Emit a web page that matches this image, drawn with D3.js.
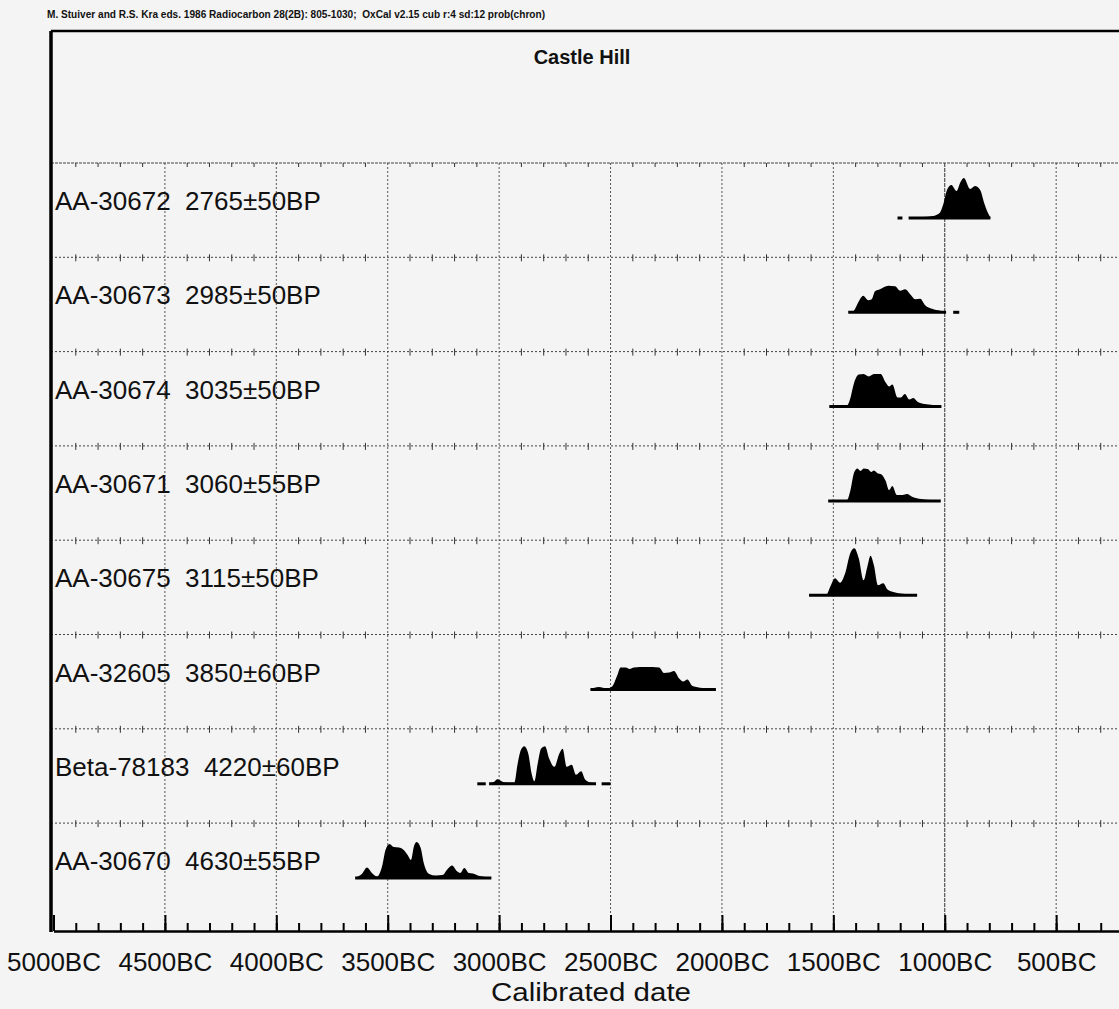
<!DOCTYPE html>
<html>
<head>
<meta charset="utf-8">
<script src="https://cdn.jsdelivr.net/npm/d3@7"></script>
<style>
  html, body { margin: 0; padding: 0; background: #f4f4f4; }
  svg { display: block; }
  text { font-family: "Liberation Sans", Arial, sans-serif; fill: #111; }
</style>
</head>
<body>
<svg id="chart" width="1119" height="1009"></svg>
<script>
// ---------- DATA ----------
const headerText = "M. Stuiver and R.S. Kra eds. 1986 Radiocarbon 28(2B): 805-1030;  OxCal v2.15 cub r:4 sd:12 prob(chron)";
const chartTitle = "Castle Hill";
const axisTitle = "Calibrated date";

const labIDs  = ["AA-30672", "AA-30673", "AA-30674", "AA-30671", "AA-30675", "AA-32605", "Beta-78183", "AA-30670"];
const bpAges  = ["2765±50BP", "2985±50BP", "3035±50BP", "3060±55BP", "3115±50BP", "3850±60BP", "4220±60BP", "4630±55BP"];

// calibrated probability distributions: [year BC, relative probability]
const dist_AA30672 = [[1162,.01],[1099,.02],[1053,.04],[1023,.10],[1005,.30],[990,.56],[970,.66],[947,.54],[929,.72],[914,.80],[886,.58],[864,.64],[841,.56],[823,.30],[808,.12],[795,.01]];
const dist_AA30673 = [[1433,.01],[1411,.02],[1388,.20],[1366,.33],[1343,.24],[1328,.26],[1313,.42],[1291,.46],[1253,.53],[1223,.52],[1200,.43],[1178,.46],[1155,.36],[1133,.26],[1110,.27],[1088,.14],[1057,.07],[1020,.03],[994,.01]];
const dist_AA30674 = [[1518,.01],[1439,.02],[1424,.16],[1409,.44],[1386,.64],[1364,.65],[1341,.60],[1318,.65],[1288,.65],[1265,.48],[1250,.40],[1235,.44],[1212,.18],[1197,.18],[1179,.25],[1159,.14],[1141,.17],[1121,.09],[1091,.05],[1053,.03],[1015,.01]];
const dist_AA30671 = [[1523,.01],[1439,.02],[1424,.20],[1406,.58],[1392,.65],[1378,.60],[1364,.65],[1346,.64],[1330,.58],[1318,.61],[1300,.55],[1288,.54],[1265,.40],[1250,.22],[1235,.30],[1215,.12],[1189,.12],[1170,.14],[1144,.08],[1106,.04],[1060,.02],[1018,.01]];
const dist_AA30675 = [[1609,.01],[1530,.02],[1515,.16],[1492,.34],[1470,.25],[1447,.44],[1424,.84],[1406,.94],[1386,.74],[1364,.30],[1348,.56],[1333,.79],[1318,.60],[1300,.20],[1276,.24],[1258,.12],[1227,.06],[1189,.03],[1124,.01]];
const dist_AA32605 = [[2590,.01],[2553,.05],[2515,.02],[2493,.06],[2470,.28],[2455,.44],[2432,.44],[2414,.41],[2395,.44],[2342,.45],[2282,.44],[2260,.33],[2237,.34],[2215,.37],[2192,.22],[2174,.16],[2155,.20],[2132,.07],[2087,.03],[2027,.01]];
const dist_Beta78183 = [[3045,.01],[3022,.04],[3008,.09],[2985,.04],[2962,.02],[2932,.02],[2917,.40],[2902,.68],[2887,.75],[2869,.60],[2854,.20],[2842,.05],[2827,.40],[2812,.70],[2794,.75],[2775,.50],[2752,.34],[2730,.60],[2715,.70],[2697,.34],[2674,.38],[2655,.18],[2632,.25],[2613,.08],[2587,.02],[2565,.01]];
const dist_AA30670 = [[3646,.01],[3616,.08],[3593,.21],[3571,.10],[3548,.03],[3525,.24],[3510,.56],[3492,.68],[3473,.62],[3450,.61],[3428,.56],[3408,.44],[3396,.36],[3382,.64],[3370,.72],[3352,.60],[3337,.28],[3314,.08],[3284,.05],[3254,.06],[3231,.18],[3211,.25],[3190,.14],[3175,.10],[3156,.20],[3136,.10],[3118,.09],[3088,.04],[3035,.01]];

const distributions = [dist_AA30672, dist_AA30673, dist_AA30674, dist_AA30671, dist_AA30675, dist_AA32605, dist_Beta78183, dist_AA30670];

// small range dashes drawn on the baseline: [from BC, to BC]
const dashRanges = [[[1212,1190]], [[962,935]], [], [], [], [], [[3098,3060],[2540,2500]], []];

const majorTicks = [5000, 4500, 4000, 3500, 3000, 2500, 2000, 1500, 1000, 500];
const tickLabels = ["5000BC", "4500BC", "4000BC", "3500BC", "3000BC", "2500BC", "2000BC", "1500BC", "1000BC", "500BC"];
const minorTicks = d3.range(4900, 199, -100);

// ---------- LAYOUT ----------
const svg = d3.select("#chart");
const W = 1119, H = 1009;
const frameLeft = 51, frameTop = 31, rowsTop = 163, axisY = 931;

const x = d3.scaleLinear().domain([5000, 200]).range([53.5, 1123]);
const rowScale = d3.scaleBand().domain(labIDs).range([rowsTop, rowsTop + 8 * 94.3]);
const yProb = d3.scaleLinear().domain([0, 1]).range([0, 50]);
const baselineOffset = 55, labelOffset = 47;

svg.append("rect").attr("width", W).attr("height", H).attr("fill", "#f4f4f4");

// header
svg.append("text").attr("x", 47).attr("y", 18)
  .attr("font-size", 11).attr("font-weight", "bold")
  .attr("textLength", 498).attr("lengthAdjust", "spacingAndGlyphs")
  .style("white-space", "pre")
  .text(headerText);

// title
svg.append("text").attr("x", 582).attr("y", 64)
  .attr("text-anchor", "middle").attr("font-size", 20).attr("font-weight", "bold")
  .text(chartTitle);

// vertical grid lines
svg.append("g").selectAll("line").data(majorTicks.slice(1)).join("line")
  .attr("x1", d => x(d)).attr("x2", d => x(d))
  .attr("y1", rowsTop).attr("y2", axisY)
  .attr("stroke", d => d === 1000 ? "#333" : "#555").attr("stroke-width", 1)
  .attr("stroke-dasharray", d => d === 1000 ? "4,1" : "2,2");

// row separators with small ticks
labIDs.forEach((id, i) => {
  const y0 = rowScale(id);
  const g = svg.append("g");
  g.append("line").attr("x1", frameLeft).attr("x2", x(200)).attr("y1", y0).attr("y2", y0)
    .attr("stroke", "#444").attr("stroke-width", 1)
    .attr("stroke-dasharray", i === 0 ? "3,1" : "2,2");
  g.selectAll("line.t").data(minorTicks.filter(d => d % 500 !== 0)).join("line").attr("class", "t")
    .attr("x1", d => x(d)).attr("x2", d => x(d))
    .attr("y1", i === 0 ? y0 : y0 - 3).attr("y2", y0 + 4)
    .attr("stroke", "#333").attr("stroke-width", 1);
});

// row labels
labIDs.forEach((id, i) => {
  svg.append("text").attr("x", 55).attr("y", rowScale(id) + labelOffset)
    .attr("font-size", 26).style("white-space", "pre")
    .text(id + "  " + bpAges[i]);
});

// distributions
const area = d3.area()
  .x(d => x(d[0]))
  .y0(0)
  .y1(d => -yProb(d[1]))
  .curve(d3.curveMonotoneX);

distributions.forEach((dist, i) => {
  const yb = rowScale(labIDs[i]) + baselineOffset;
  const g = svg.append("g").attr("transform", `translate(0,${yb})`);
  const sorted = dist.slice().sort((a, b) => b[0] - a[0]);
  g.append("path").datum(sorted).attr("d", area).attr("fill", "#000");
  const ext = d3.extent(sorted, d => d[0]);
  g.append("line").attr("x1", x(ext[1])).attr("x2", x(ext[0])).attr("y1", 0).attr("y2", 0)
    .attr("stroke", "#000").attr("stroke-width", 3);
  g.selectAll("line.dash").data(dashRanges[i]).join("line").attr("class", "dash")
    .attr("x1", d => x(d[0])).attr("x2", d => x(d[1])).attr("y1", 0).attr("y2", 0)
    .attr("stroke", "#000").attr("stroke-width", 3);
});

// bottom axis: minor ticks
const minorAxis = d3.axisBottom(x).tickValues(minorTicks).tickSize(-8).tickSizeOuter(0).tickFormat("");
const gMinor = svg.append("g").attr("transform", `translate(0,${axisY})`).call(minorAxis);
gMinor.select(".domain").remove();
gMinor.selectAll(".tick line").attr("stroke", "#000").attr("stroke-width", 2);

// bottom axis: major ticks + labels
const majorAxis = d3.axisBottom(x).tickValues(majorTicks).tickSize(-16).tickSizeOuter(0)
  .tickPadding(22).tickFormat((d, i) => tickLabels[i]);
const gMajor = svg.append("g").attr("transform", `translate(0,${axisY})`).call(majorAxis);
gMajor.select(".domain").attr("stroke", "#000").attr("stroke-width", 2.5);
gMajor.selectAll(".tick line").attr("stroke", "#000").attr("stroke-width", 2);
gMajor.selectAll(".tick text").attr("font-size", 26).attr("fill", "#111")
  .attr("font-family", "'Liberation Sans', Arial, sans-serif");

// axis title
svg.append("text").attr("x", 591).attr("y", 1001).attr("text-anchor", "middle")
  .attr("font-size", 26).attr("textLength", 200).attr("lengthAdjust", "spacingAndGlyphs")
  .text(axisTitle);

// frame
svg.append("line").attr("x1", frameLeft).attr("x2", frameLeft).attr("y1", frameTop).attr("y2", axisY + 1)
  .attr("stroke", "#000").attr("stroke-width", 3.5);
svg.append("line").attr("x1", frameLeft).attr("x2", x(200)).attr("y1", frameTop).attr("y2", frameTop)
  .attr("stroke", "#000").attr("stroke-width", 2.5);
svg.append("line").attr("x1", x(200)).attr("x2", x(200)).attr("y1", frameTop).attr("y2", axisY)
  .attr("stroke", "#000").attr("stroke-width", 2);
</script>
</body>
</html>
